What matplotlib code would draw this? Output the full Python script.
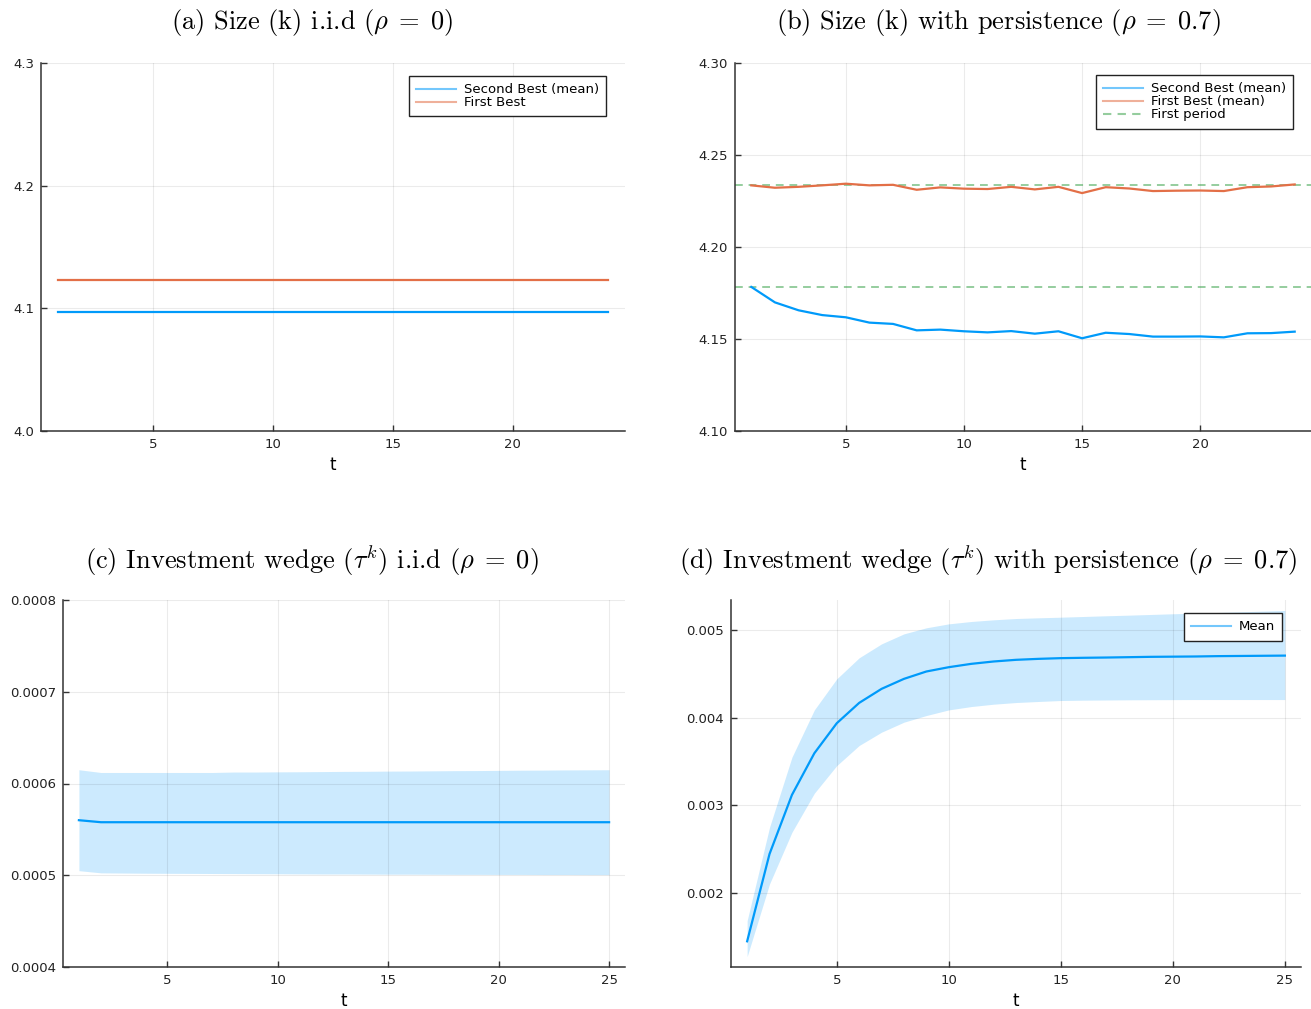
import numpy as np
import matplotlib
matplotlib.use("Agg")
import matplotlib.pyplot as plt
from matplotlib.lines import Line2D

plt.rcParams["mathtext.fontset"] = "cm"
plt.rcParams["font.family"] = ["DejaVu Sans"]

BLUE = "#009AFA"
ORANGE = "#E36F47"
GREEN = "#3EA44E"

# ---- (a) capital, i.i.d. shocks ----
t_a = np.arange(1, 25)
k_second_best_iid = 4.097
k_first_best_iid = 4.123

# ---- (b) capital, persistent shocks ----
t_b = np.arange(1, 25)
k_second_best_pers = [4.1783, 4.1699, 4.1656, 4.1630, 4.1618, 4.1589, 4.1582, 4.1547,
                      4.1551, 4.1542, 4.1536, 4.1543, 4.1529, 4.1542, 4.1504, 4.1534,
                      4.1527, 4.1513, 4.1513, 4.1514, 4.1509, 4.1531, 4.1532, 4.1540]
k_first_best_pers = [4.2335, 4.2322, 4.2327, 4.2335, 4.2344, 4.2335, 4.2338, 4.2311,
                     4.2324, 4.2317, 4.2315, 4.2327, 4.2313, 4.2327, 4.2293, 4.2325,
                     4.2318, 4.2304, 4.2306, 4.2307, 4.2304, 4.2325, 4.2329, 4.2340]
k_first_period_fb = 4.2335
k_first_period_sb = 4.1783

# ---- (c) investment wedge, i.i.d. shocks ----
t_c = np.arange(1, 26)
wedge_iid_mean = [0.000560] + [0.0005578] * 24
wedge_iid_upper = [0.000615, 0.000612, 0.000612, 0.000612, 0.000612, 0.000612, 0.000612,
                   0.0006125, 0.0006125, 0.0006127, 0.0006128, 0.0006130, 0.0006132,
                   0.0006133, 0.0006135, 0.0006136, 0.0006138, 0.0006140, 0.0006141,
                   0.0006143, 0.0006145, 0.0006146, 0.0006148, 0.0006149, 0.000615]
wedge_iid_lower = [0.000505, 0.0005026, 0.0005024, 0.0005022, 0.0005021, 0.0005020,
                   0.0005019, 0.0005018, 0.0005017, 0.0005016, 0.0005015, 0.0005014,
                   0.0005014, 0.0005013, 0.0005012, 0.0005012, 0.0005011, 0.0005010,
                   0.0005010, 0.0005009, 0.0005009, 0.0005008, 0.0005008, 0.0005007,
                   0.0005007]

# ---- (d) investment wedge, persistent shocks ----
t_d = np.arange(1, 26)
wedge_pers_mean = [0.001449, 0.002445, 0.003118, 0.003593, 0.003935, 0.004167, 0.004327,
                   0.004441, 0.004525, 0.004574, 0.004612, 0.004639, 0.004658, 0.004669,
                   0.004677, 0.004681, 0.004684, 0.004688, 0.004692, 0.004694, 0.004696,
                   0.004700, 0.004702, 0.004704, 0.004706]
wedge_pers_upper = [0.001684, 0.002749, 0.003548, 0.004087, 0.004441, 0.004681, 0.004840,
                    0.004954, 0.005023, 0.005068, 0.005095, 0.005114, 0.005129, 0.005137,
                    0.005144, 0.005152, 0.005160, 0.005167, 0.005175, 0.005183, 0.005190,
                    0.005198, 0.005205, 0.005213, 0.005221]
wedge_pers_lower = [0.001274, 0.002103, 0.002692, 0.003137, 0.003452, 0.003681, 0.003833,
                    0.003947, 0.004023, 0.004087, 0.004125, 0.004152, 0.004171, 0.004183,
                    0.004194, 0.004198, 0.004200, 0.004202, 0.004203, 0.004204, 0.004205,
                    0.004205, 0.004205, 0.004205, 0.004205]

W, H = 1311, 1009
fig = plt.figure(figsize=(W / 100, H / 100), dpi=100)


def px_axes(x0, y0, x1, y1):
    return fig.add_axes([x0 / W, 1 - y1 / H, (x1 - x0) / W, (y1 - y0) / H])


def style(ax):
    for s in ("top", "right"):
        ax.spines[s].set_visible(False)
    for s in ("left", "bottom"):
        ax.spines[s].set_color("#333333")
        ax.spines[s].set_linewidth(1.1)
    ax.grid(True, color="#000000", alpha=0.08, linewidth=0.8)
    ax.tick_params(direction="in", length=4, width=1, colors="#333333",
                   labelsize=9.5, labelcolor="#222222", pad=5)
    ax.set_xlabel("t", fontsize=12, labelpad=4)


def legend(ax, handles, labels, anchor):
    leg = ax.legend(handles, labels, fontsize=9.5, frameon=True, fancybox=False,
                    edgecolor="#222222", framealpha=1.0, handlelength=3.0,
                    borderpad=0.55, labelspacing=0.0, handletextpad=0.6,
                    borderaxespad=0.0, loc="upper right", bbox_to_anchor=anchor)
    leg.get_frame().set_linewidth(1.0)
    return leg


def pale(color, ls="-"):
    return Line2D([], [], color=color, lw=1.5, alpha=0.55, ls=ls)


def mtitle(x, y, s):
    fig.text(x / W, 1 - y / H, s, ha="center", va="center", fontsize=19,
             family="cmr10")


# (a)
ax = px_axes(41, 63, 625, 431)
style(ax)
ax.plot(t_a, np.full(len(t_a), k_second_best_iid), color=BLUE, lw=1.6)
ax.plot(t_a, np.full(len(t_a), k_first_best_iid), color=ORANGE, lw=1.6)
ax.set_xlim(0.31, 24.69)
ax.set_ylim(4.0, 4.3)
ax.set_xticks([5, 10, 15, 20])
ax.set_yticks([4.0, 4.1, 4.2, 4.3])
ax.set_yticklabels(["4.0", "4.1", "4.2", "4.3"])
legend(ax, [pale(BLUE), pale(ORANGE)], ["Second Best (mean)", "First Best"],
       (0.9675, 0.965))
mtitle(312, 22, r"(a) Size (k) i.i.d ($\rho\;=\;0$)")

# (b)
ax = px_axes(735, 63, 1311, 431)
style(ax)
ax.axhline(k_first_period_fb, color=GREEN, lw=1.4, ls=(0, (4, 3)), alpha=0.55)
ax.axhline(k_first_period_sb, color=GREEN, lw=1.4, ls=(0, (4, 3)), alpha=0.55)
ax.plot(t_b, k_second_best_pers, color=BLUE, lw=1.6)
ax.plot(t_b, k_first_best_pers, color=ORANGE, lw=1.6)
ax.set_xlim(0.31, 24.69)
ax.set_ylim(4.10, 4.30)
ax.set_xticks([5, 10, 15, 20])
ax.set_yticks([4.10, 4.15, 4.20, 4.25, 4.30])
ax.set_yticklabels(["4.10", "4.15", "4.20", "4.25", "4.30"])
legend(ax, [pale(BLUE), pale(ORANGE), pale(GREEN, (0, (4, 3)))],
       ["Second Best (mean)", "First Best (mean)", "First period"],
       (0.969, 0.967))
mtitle(998, 22, r"(b) Size (k) with persistence ($\rho\;=\;0.7$)")

# (c)
ax = px_axes(63, 600, 625, 967)
style(ax)
ax.fill_between(t_c, wedge_iid_lower, wedge_iid_upper, color=BLUE, alpha=0.2, lw=0)
ax.plot(t_c, wedge_iid_mean, color=BLUE, lw=1.6)
ax.set_xlim(0.28, 25.72)
ax.set_ylim(0.0004, 0.0008)
ax.set_xticks([5, 10, 15, 20, 25])
ax.set_yticks([0.0004, 0.0005, 0.0006, 0.0007, 0.0008])
ax.set_yticklabels(["0.0004", "0.0005", "0.0006", "0.0007", "0.0008"])
mtitle(312, 560, r"(c) Investment wedge ($\tau^k$) i.i.d ($\rho\;=\;0$)")

# (d)
ax = px_axes(731, 600, 1301, 967)
style(ax)
ax.fill_between(t_d, wedge_pers_lower, wedge_pers_upper, color=BLUE, alpha=0.2, lw=0)
ax.plot(t_d, wedge_pers_mean, color=BLUE, lw=1.6)
ax.set_xlim(0.28, 25.72)
ax.set_ylim(0.001156, 0.00534)
ax.set_xticks([5, 10, 15, 20, 25])
ax.set_yticks([0.002, 0.003, 0.004, 0.005])
ax.set_yticklabels(["0.002", "0.003", "0.004", "0.005"])
legend(ax, [pale(BLUE)], ["Mean"], (0.9667, 0.9646))
mtitle(988, 560, r"(d) Investment wedge ($\tau^k$) with persistence ($\rho\;=\;0.7$)")

fig.savefig("out.png", dpi=100)
